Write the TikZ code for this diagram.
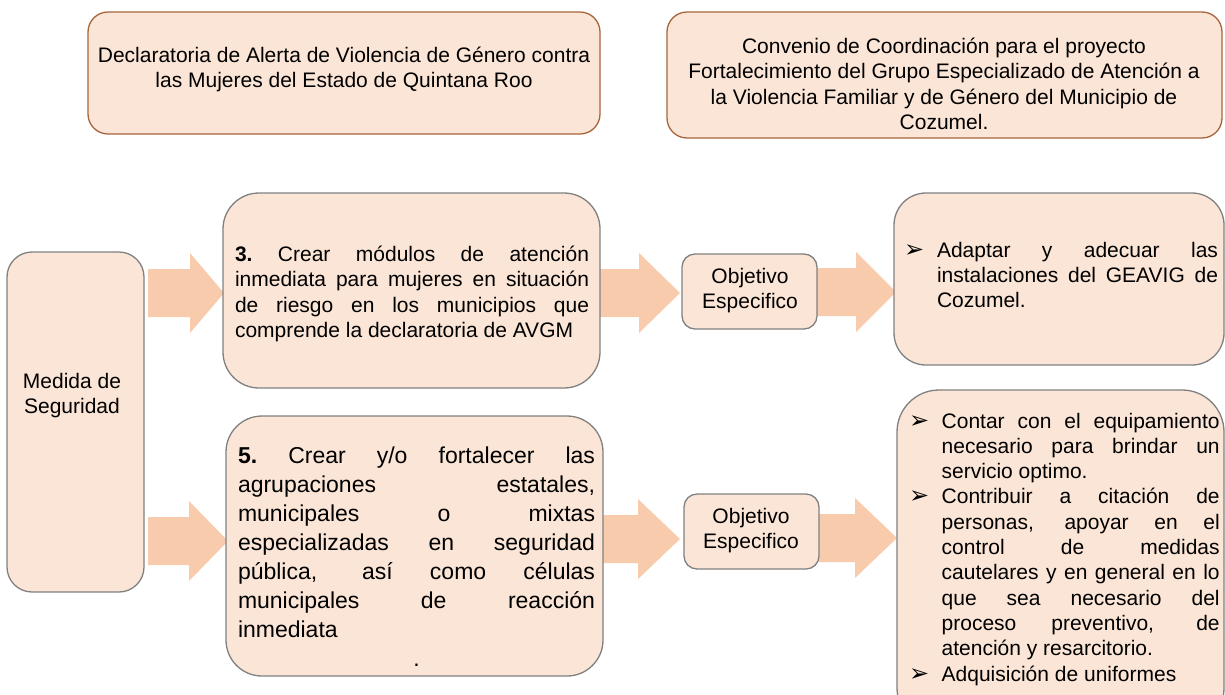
\documentclass[tikz,border=0pt]{standalone}
\usepackage{fontspec}
\setmainfont{Liberation Sans}
\newfontfamily\dejavu{DejaVu Sans}
\definecolor{boxfill}{RGB}{251,229,214}
\definecolor{arrowfill}{RGB}{248,203,173}
\definecolor{graybd}{RGB}{128,128,128}
\definecolor{brownbd}{RGB}{168,100,60}
\newcommand\blockarrow[4]{% x0, x-headbase, x-tip, y-centre
  \fill[arrowfill] (#1,#4-24) -- (#2,#4-24) -- (#2,#4-40) -- (#3,#4) -- (#2,#4+40) -- (#2,#4+24) -- (#1,#4+24) -- cycle;}
\newcommand\J[1]{\makebox[\linewidth][s]{#1}\\}
\tikzset{
  box/.style={draw=graybd, fill=boxfill, line width=1.3pt, rounded corners=#1,
    anchor=north west, inner sep=0pt, outer sep=0pt},
  topbox/.style={box=#1, draw=brownbd},
  txt/.style={inner sep=0pt, outer sep=0pt, text=black},
  bullet/.style={inner sep=0pt, outer sep=0pt, anchor=base west, font=\dejavu\fontsize{24}{24}\selectfont},
}
\begin{document}
\begin{tikzpicture}[x=1pt,y=-1pt]
\useasboundingbox (0,0) rectangle (1225,694);
% block arrows
\blockarrow{148}{190}{224}{293}
\blockarrow{148}{189}{228}{541}
\blockarrow{600}{639}{680}{293}
\blockarrow{817}{856}{896}{292}
\blockarrow{603}{638}{680}{539}
\blockarrow{819}{855}{897}{538}
% boxes
\node[topbox=20pt, minimum width=512pt, minimum height=122pt] (decl) at (88,12) {};
\node[topbox=20pt, minimum width=555pt, minimum height=126pt] (conv) at (667,12) {};
\node[box=25pt, minimum width=137pt, minimum height=340pt] (medida) at (7,252) {};
\node[box=36pt, minimum width=377pt, minimum height=195pt] (m3) at (223,193) {};
\node[box=36pt, minimum width=377pt, minimum height=260pt] (m5) at (226,416) {};
\node[box=13pt, minimum width=135pt, minimum height=75pt] (obj1) at (682,254) {};
\node[box=13pt, minimum width=135pt, minimum height=75pt] (obj2) at (684,494) {};
\node[box=32pt, minimum width=330pt, minimum height=172pt] (r1) at (894,193) {};
\node[box=42pt, minimum width=327pt, minimum height=340pt] (r2) at (897,390) {};
% texts
\node[txt, anchor=base] (tdecl) at (344,62) {\parbox[t]{520pt}{\centering\fontsize{21}{25.5}\selectfont
  Declaratoria de Alerta de Violencia de Género contra\\ las Mujeres del Estado de Quintana Roo}};
\node[txt, anchor=base] (tconv) at (944,53) {\parbox[t]{560pt}{\centering\fontsize{21}{25.5}\selectfont
  Convenio de Coordinación para el proyecto\\ Fortalecimiento del Grupo Especializado de Atención a\\ la Violencia Familiar y de Género del Municipio de\\ Cozumel.}};
\node[txt, anchor=base] (tmedida) at (72,388) {\parbox[t]{130pt}{\centering\fontsize{21}{25.5}\selectfont
  Medida de\\ Seguridad}};
\node[txt, anchor=base west] (tm3) at (235,261) {\parbox[t]{354pt}{\fontsize{21}{25.5}\selectfont
  \J{\textbf{3.}\ Crear módulos de atención}
  \J{inmediata para mujeres en situación}
  \J{de riesgo en los municipios que}
  comprende la declaratoria de AVGM}};
\node[txt, anchor=base west] (tm5) at (238,463) {\parbox[t]{357pt}{\fontsize{23}{29}\selectfont
  \J{\textbf{5.}\ Crear y/o fortalecer las}
  \J{agrupaciones estatales,}
  \J{municipales o mixtas}
  \J{especializadas en seguridad}
  \J{pública, así como células}
  \J{municipales de reacción}
  inmediata\\
  \makebox[\linewidth]{.}}};
\node[txt, anchor=base] (tobj1) at (750,283) {\parbox[t]{130pt}{\centering\fontsize{21}{25.5}\selectfont
  Objetivo\\ Especifico}};
\node[txt, anchor=base] (tobj2) at (751,523) {\parbox[t]{130pt}{\centering\fontsize{21}{25.5}\selectfont
  Objetivo\\ Especifico}};
% right top list
\node[bullet] (b1) at (904,257) {➢};
\node[txt, anchor=base west] (tr1) at (937,257) {\parbox[t]{281pt}{\fontsize{21}{25}\selectfont
  \J{Adaptar y adecuar las}
  \J{instalaciones del GEAVIG de}
  Cozumel.}};
% right bottom list
\node[bullet] (b2) at (909,428) {➢};
\node[bullet] (b3) at (909,503.9) {➢};
\node[bullet] (b4) at (909,681) {➢};
\node[txt, anchor=base west] (tr2) at (941.7,428) {\parbox[t]{278pt}{\fontsize{21}{25.3}\selectfont
  \J{Contar con el equipamiento}
  \J{necesario para brindar un}
  servicio optimo.\\
  \J{Contribuir a citación de}
  \J{personas, apoyar en el}
  \J{control de medidas}
  \J{cautelares y en general en lo}
  \J{que sea necesario del}
  \J{proceso preventivo, de}
  atención y resarcitorio.\\
  Adquisición de uniformes}};
\end{tikzpicture}
\end{document}
